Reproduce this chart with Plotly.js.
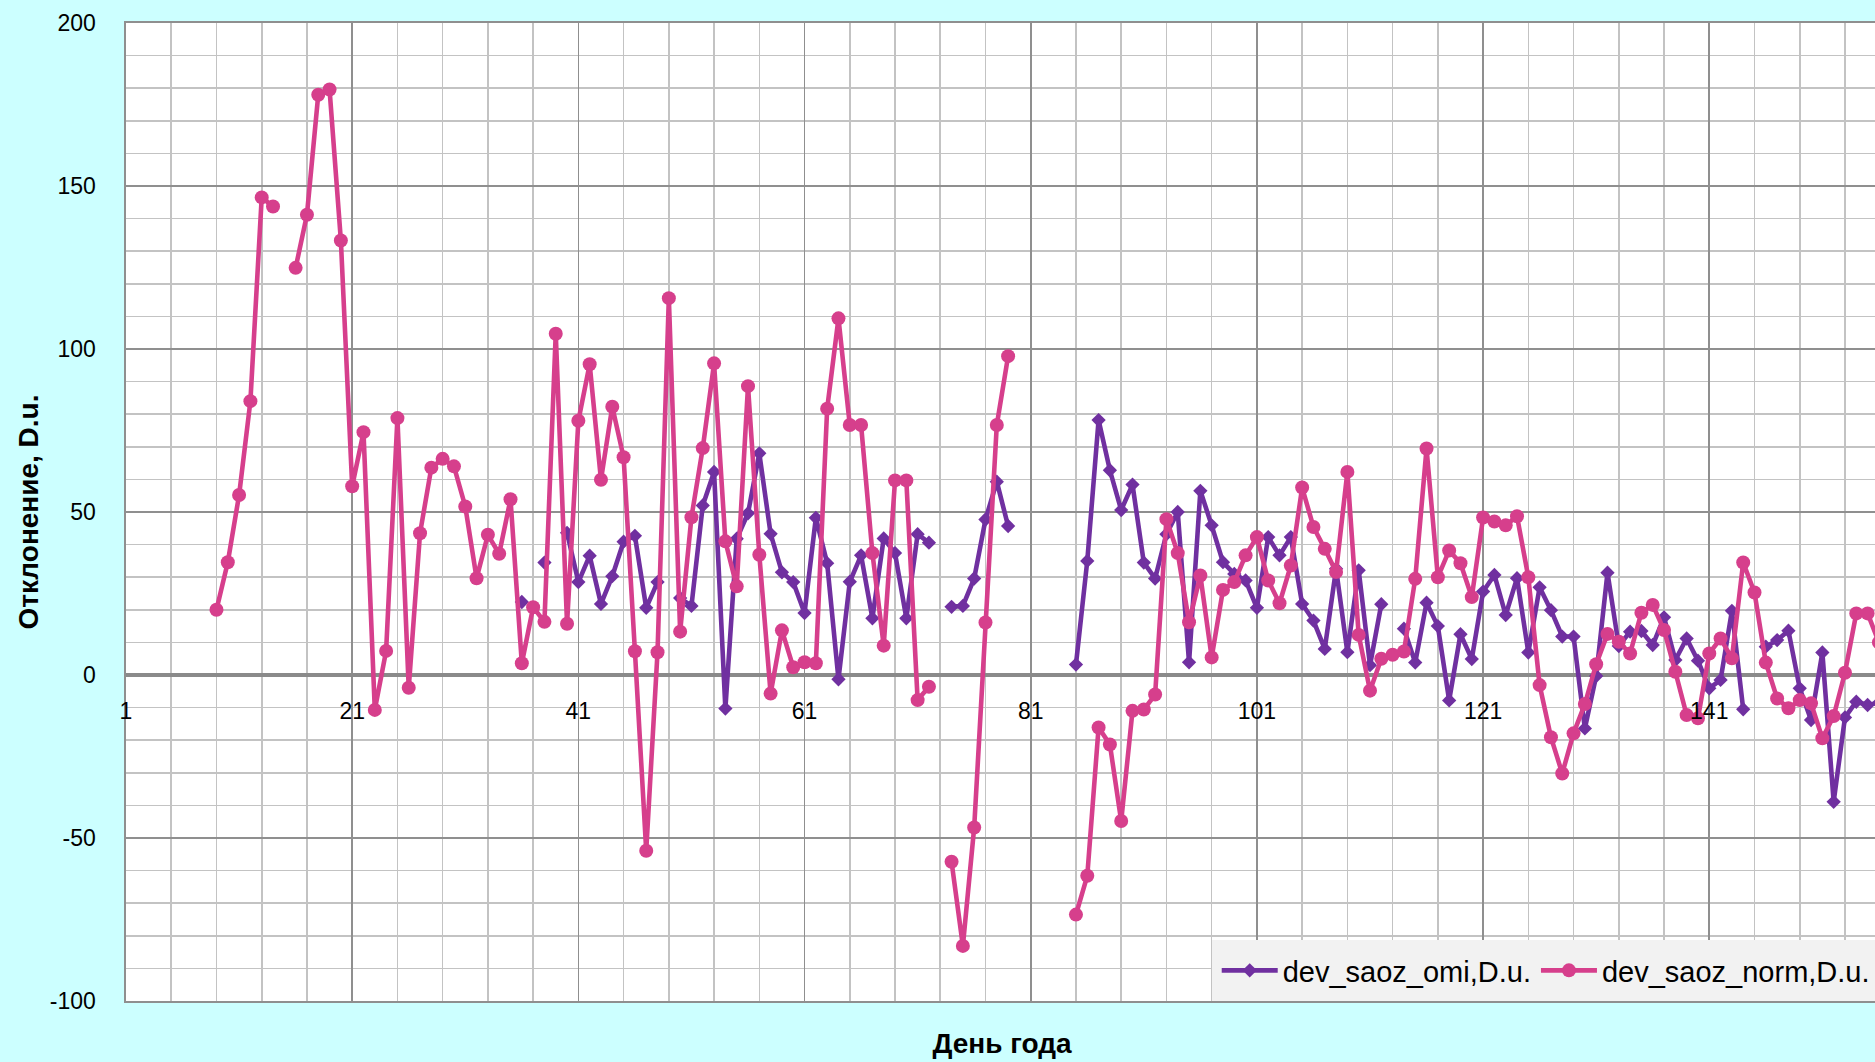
<!DOCTYPE html>
<html>
<head>
<meta charset="utf-8">
<script src="https://cdn.plot.ly/plotly-3.0.1.min.js"></script>
<style>
html,body{margin:0;padding:0;background:#ccffff;overflow:hidden;}
#chart{width:1893px;height:1062px;}
</style>
</head>
<body>
<div id="chart"></div>
<script>
// Day of year 1..156
var days = [];
for (var d = 1; d <= 156; d++) days.push(d);

// dev_saoz_omi, D.u. (null = no data)
var omiValues = [
  null,null,null,null,null,null,null,null,null,null,   // 1-10
  null,null,null,null,null,null,null,null,null,null,   // 11-20
  null,null,null,null,null,null,null,null,null,null,   // 21-30
  null,null,null,null,null,22.4,null,34.5,null,43.6,   // 31-40
  28.5,36.6,21.8,30.3,40.9,42.7,20.6,28.5,null,23.6,   // 41-50
  21.2,52,62.3,-10.3,41.8,49.6,68,43.3,31.5,28.5,      // 51-60
  19,48.2,34.3,-1.3,28.6,36.7,17.4,41.9,37.4,17.4,     // 61-70
  43.2,40.6,null,20.9,21.2,29.6,47.7,59.3,45.7,null,   // 71-80
  null,null,null,null,3.2,35,78.2,62.8,50.6,58.4,      // 81-90
  34.5,29.6,43.2,50,3.9,56.5,45.9,34.6,31,29,          // 91-100
  20.6,42.3,36.7,42.3,21.8,16.7,8,32.6,7,32.1,         // 101-110
  3,21.7,null,14.2,3.8,22.2,15,-7.8,12.5,4.9,          // 111-120
  25.6,30.7,18.4,29.7,6.9,26.9,19.9,11.8,11.8,-16.4,   // 121-130
  -0.3,31.4,8.9,13.3,13.5,9.2,17.7,4.6,11.2,4.4,       // 131-140
  -4.1,-1.5,19.7,-10.5,null,8.7,10.7,13.6,-4.1,-13.8,  // 141-150
  6.9,-38.9,-13,-8.2,-9.2,-8.5                          // 151-156
];

// dev_saoz_norm, D.u. (null = no data)
var normValues = [
  null,null,null,null,null,null,null,null,20,34.6,          // 1-10
  55.2,84,146.5,143.7,null,124.9,141.2,178,179.6,133.3,     // 11-20
  57.9,74.5,-10.7,7.4,78.8,-3.9,43.5,63.6,66.3,64,          // 21-30
  51.7,29.7,43,37.2,53.9,3.6,20.8,16.3,104.7,15.7,          // 31-40
  78,95.3,59.9,82.3,66.8,7.3,-53.9,7,115.6,13.3,            // 41-50
  48.4,69.6,95.6,41,27.2,88.6,36.9,-5.7,13.7,2.4,           // 51-60
  3.9,3.6,81.7,109.4,76.7,76.7,37.4,9,59.7,59.7,            // 61-70
  -7.7,-3.6,null,-57.3,-83.1,-46.8,16.1,76.7,97.8,null,     // 71-80
  null,null,null,null,-73.5,-61.6,-16.1,-21.3,-44.8,-11,    // 81-90
  -10.6,-6,47.8,37.4,16.2,30.5,5.4,26.1,28.5,36.7,          // 91-100
  42.3,29,22,33.6,57.5,45.4,38.7,31.6,62.3,12.3,            // 101-110
  -4.8,5,6.2,7.2,29.5,69.5,30,38.2,34.3,23.9,               // 111-120
  48.3,47.1,45.9,48.7,30,-3.1,-19.1,-30.2,-17.9,-8.9,       // 121-130
  3.3,12.6,10.2,6.6,19.1,21.5,13.8,1,-12.3,-13.3,           // 131-140
  6.6,11.2,5.1,34.5,25.3,3.8,-7.2,-10.2,-7.7,-8.7,          // 141-150
  -19.4,-12.6,0.7,18.9,18.9,10                               // 151-156
];

var seriesNames = ["dev_saoz_omi,D.u.", "dev_saoz_norm,D.u."];
var yTickVals = [-100, -50, 0, 50, 100, 150, 200];
var yTickText = ["-100", "-50", "0", "50", "100", "150", "200"];
var xTickStart = 1, xTickStep = 20;

var FONT = "Liberation Sans, Arial, sans-serif";
var PURPLE = "#7030a0", PINK = "#d63f8c";
var MAJOR = "#8f8f8f", MINOR = "#c3c3c3";

var traces = [
  {
    x: days, y: omiValues, name: seriesNames[0], type: "scatter", mode: "lines+markers",
    connectgaps: false,
    line: {color: PURPLE, width: 4.6},
    marker: {symbol: "diamond", size: 11, color: PURPLE},
    xaxis: "x", yaxis: "y"
  },
  {
    x: days, y: normValues, name: seriesNames[1], type: "scatter", mode: "lines+markers",
    connectgaps: false,
    line: {color: PINK, width: 4.6},
    marker: {symbol: "circle", size: 14, color: PINK},
    xaxis: "x2", yaxis: "y"
  }
];

var W = 1893, plotLeft = 125.7, plotRightMargin = 15;
var plotW = W - plotLeft - plotRightMargin;
var pxPerDay = 11.311;
var xMax = 1 + plotW / pxPerDay;

var layout = {
  width: W, height: 1062,
  paper_bgcolor: "#ccffff",
  plot_bgcolor: "#ffffff",
  margin: {l: plotLeft, r: plotRightMargin, t: 22.7, b: 61, pad: 0},
  font: {family: FONT, color: "#000000"},
  showlegend: true,
  legend: {
    orientation: "h",
    x: (1211.6 - plotLeft) / plotW, xanchor: "left",
    y: (1001 - 940) / (1062 - 22.7 - 61), yanchor: "top",
    bgcolor: "#f2f2f2", bordercolor: "#f2f2f2", borderwidth: 5,
    font: {family: FONT, size: 29, color: "#000000"},
    itemwidth: 56
  },
  xaxis: {
    range: [1, xMax],
    anchor: "y",
    tickmode: "linear", tick0: xTickStart, dtick: xTickStep,
    showticklabels: false, ticks: "",
    showgrid: true, gridcolor: MAJOR, gridwidth: 1.6,
    minor: {tick0: 1, dtick: 4, showgrid: true, gridcolor: MINOR, gridwidth: 1.6},
    zeroline: false,
    showline: true, linecolor: MAJOR, linewidth: 1.6, mirror: true,
    title: {text: "День года", font: {family: FONT, size: 28, weight: "bold", color: "#000"}, standoff: 32}
  },
  xaxis2: {
    range: [1, xMax],
    overlaying: "x",
    anchor: "free", position: 1/3, side: "bottom",
    tickmode: "linear", tick0: xTickStart, dtick: xTickStep,
    showgrid: false, zeroline: false, showline: false, ticks: "",
    ticklabelstandoff: 20,
    tickfont: {family: FONT, size: 23, color: "#000"}
  },
  yaxis: {
    range: [-100, 200],
    tickmode: "array", tickvals: yTickVals, ticktext: yTickText,
    ticks: "", ticklabelstandoff: 24,
    tickfont: {family: FONT, size: 23, color: "#000"},
    showgrid: true, gridcolor: MAJOR, gridwidth: 1.6,
    minor: {dtick: 10, showgrid: true, gridcolor: MINOR, gridwidth: 1.6},
    zeroline: true, zerolinecolor: "#8a8a8a", zerolinewidth: 4,
    showline: true, linecolor: MAJOR, linewidth: 1.6,
    title: {text: "Отклонение, D.u.", font: {family: FONT, size: 28, weight: "bold", color: "#000"}, standoff: 3}
  }
};

Plotly.newPlot("chart", traces, layout, {staticPlot: true, displayModeBar: false});
</script>
</body>
</html>
